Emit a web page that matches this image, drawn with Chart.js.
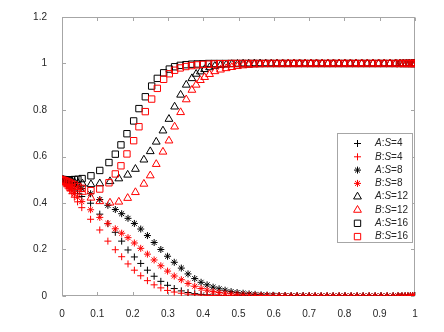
<!DOCTYPE html>
<html>
<head>
<meta charset="utf-8">
<script src="https://cdn.jsdelivr.net/npm/chart.js"></script>
<style>
  html, body { margin: 0; padding: 0; background: #fff; }
  #wrap { width: 444px; height: 332px; }
</style>
</head>
<body>
<div id="wrap"><canvas id="c"></canvas></div>
<script>
// tick labels
const xTicks = [0, 0.1, 0.2, 0.3, 0.4, 0.5, 0.6, 0.7, 0.8, 0.9, 1];
const yTicks = [0, 0.2, 0.4, 0.6, 0.8, 1, 1.2];

// sample positions (solver output is not evenly spaced)
const xCross = [
  0, 0.003, 0.006, 0.009, 0.013, 0.017, 0.022, 0.028, 0.035, 0.044,
  0.056, 0.081, 0.107, 0.13, 0.151, 0.169, 0.187, 0.205, 0.223, 0.242,
  0.261, 0.28, 0.299, 0.318, 0.338, 0.357, 0.376, 0.394, 0.411, 0.428,
  0.445, 0.462, 0.479, 0.496, 0.513, 0.53, 0.547, 0.564, 0.581, 0.598,
  0.615, 0.632, 0.649, 0.666, 0.683, 0.7, 0.717, 0.734, 0.751, 0.768,
  0.785, 0.802, 0.819, 0.836, 0.853, 0.87, 0.887, 0.904, 0.921, 0.938,
  0.952, 0.963, 0.972, 0.98, 0.987, 0.993, 0.998, 1.0
];
const xTri = [
  0, 0.004, 0.008, 0.012, 0.016, 0.021, 0.027, 0.035, 0.045, 0.058,
  0.082, 0.107, 0.136, 0.161, 0.186, 0.208, 0.232, 0.25, 0.267, 0.286,
  0.303, 0.319, 0.336, 0.352, 0.368, 0.38, 0.392, 0.404, 0.418, 0.433,
  0.449, 0.465, 0.481, 0.497, 0.513, 0.529, 0.545, 0.561, 0.577, 0.593,
  0.609, 0.625, 0.641, 0.657, 0.673, 0.689, 0.705, 0.721, 0.737, 0.753,
  0.769, 0.785, 0.801, 0.817, 0.833, 0.849, 0.865, 0.881, 0.897, 0.913,
  0.929, 0.945, 0.957, 0.967, 0.976, 0.984, 0.991, 0.997, 1.0
];
const xSq = [
  0, 0.004, 0.008, 0.012, 0.016, 0.021, 0.027, 0.035, 0.045, 0.057,
  0.082, 0.107, 0.133, 0.151, 0.167, 0.184, 0.203, 0.218, 0.236, 0.254,
  0.27, 0.288, 0.304, 0.319, 0.335, 0.351, 0.367, 0.383, 0.399, 0.415,
  0.431, 0.447, 0.463, 0.479, 0.495, 0.511, 0.527, 0.543, 0.559, 0.575,
  0.591, 0.607, 0.623, 0.639, 0.655, 0.671, 0.687, 0.703, 0.719, 0.735,
  0.751, 0.767, 0.783, 0.799, 0.815, 0.831, 0.847, 0.863, 0.879, 0.895,
  0.911, 0.927, 0.943, 0.956, 0.966, 0.975, 0.983, 0.99, 0.996, 1.0
];

// series values
const yA4 = [
  0.5, 0.496, 0.492, 0.488, 0.483, 0.477, 0.47, 0.462, 0.452, 0.44,
  0.428, 0.399, 0.352, 0.311, 0.274, 0.236, 0.198, 0.168, 0.14, 0.111,
  0.085, 0.063, 0.046, 0.032, 0.022, 0.015, 0.01, 0.007, 0.005, 0.004,
  0.003, 0.002, 0.002, 0.001, 0.001, 0.001, 0, 0, 0, 0,
  0, 0, 0, 0, 0, 0, 0, 0, 0, 0,
  0, 0, 0, 0, 0, 0, 0, 0, 0, 0,
  0, 0, 0, 0, 0, 0, 0, 0
];
const yB4 = [
  0.5, 0.494, 0.487, 0.481, 0.472, 0.464, 0.453, 0.44, 0.425, 0.405,
  0.38, 0.33, 0.284, 0.236, 0.199, 0.169, 0.138, 0.111, 0.087, 0.066,
  0.048, 0.035, 0.024, 0.017, 0.012, 0.008, 0.006, 0.004, 0.003, 0.002,
  0.001, 0.001, 0.001, 0, 0, 0, 0, 0, 0, 0,
  0, 0, 0, 0, 0, 0, 0, 0, 0, 0,
  0, 0, 0, 0, 0, 0, 0, 0, 0, 0,
  0, 0, 0, 0, 0, 0, 0, 0
];
const yA8 = [
  0.5, 0.498, 0.496, 0.494, 0.491, 0.488, 0.485, 0.481, 0.476, 0.47,
  0.462, 0.44, 0.415, 0.39, 0.372, 0.354, 0.334, 0.312, 0.288, 0.26,
  0.23, 0.2, 0.171, 0.145, 0.12, 0.095, 0.075, 0.059, 0.048, 0.038,
  0.031, 0.025, 0.019, 0.015, 0.012, 0.009, 0.007, 0.005, 0.004, 0.003,
  0.002, 0.002, 0.001, 0.001, 0.001, 0, 0, 0, 0, 0,
  0, 0, 0, 0, 0, 0, 0, 0, 0, 0,
  0, 0, 0, 0, 0, 0, 0, 0
];
const yB8 = [
  0.5, 0.495, 0.49, 0.485, 0.478, 0.471, 0.462, 0.452, 0.44, 0.425,
  0.406, 0.371, 0.338, 0.312, 0.289, 0.27, 0.251, 0.228, 0.205, 0.18,
  0.155, 0.13, 0.107, 0.086, 0.07, 0.054, 0.042, 0.032, 0.025, 0.019,
  0.015, 0.012, 0.009, 0.007, 0.005, 0.004, 0.003, 0.002, 0.002, 0.001,
  0.001, 0.001, 0, 0, 0, 0, 0, 0, 0, 0,
  0, 0, 0, 0, 0, 0, 0, 0, 0, 0,
  0, 0, 0, 0, 0, 0, 0, 0
];
const yA12 = [
  0.5, 0.499, 0.498, 0.497, 0.496, 0.494, 0.492, 0.489, 0.486, 0.483,
  0.48, 0.484, 0.493, 0.505, 0.521, 0.546, 0.586, 0.622, 0.663, 0.711,
  0.761, 0.814, 0.865, 0.908, 0.936, 0.955, 0.965, 0.975, 0.983, 0.989,
  0.993, 0.995, 0.997, 0.998, 0.999, 0.999, 1, 1, 1, 1,
  1, 1, 1, 1, 1, 1, 1, 1, 1, 1,
  1, 1, 1, 1, 1, 1, 1, 1, 1, 1,
  1, 1, 1, 1, 1, 1, 1, 1, 1
];
const yB12 = [
  0.5, 0.497, 0.494, 0.49, 0.486, 0.481, 0.475, 0.467, 0.458, 0.447,
  0.422, 0.407, 0.401, 0.405, 0.421, 0.446, 0.482, 0.518, 0.567, 0.62,
  0.668, 0.728, 0.79, 0.845, 0.886, 0.908, 0.928, 0.941, 0.954, 0.966,
  0.973, 0.979, 0.984, 0.988, 0.991, 0.993, 0.995, 0.996, 0.997, 0.998,
  0.999, 0.999, 1, 1, 1, 1, 1, 1, 1, 1,
  1, 1, 1, 1, 1, 1, 1, 1, 1, 1,
  1, 1, 1, 1, 1, 1, 1, 1, 1
];
const yA16 = [
  0.5, 0.5, 0.5, 0.5, 0.5, 0.5, 0.5, 0.501, 0.502, 0.505,
  0.517, 0.54, 0.574, 0.61, 0.65, 0.698, 0.753, 0.806, 0.857, 0.903,
  0.936, 0.96, 0.976, 0.986, 0.992, 0.995, 0.997, 0.998, 0.999, 1,
  1, 1, 1, 1, 1, 1, 1, 1, 1, 1,
  1, 1, 1, 1, 1, 1, 1, 1, 1, 1,
  1, 1, 1, 1, 1, 1, 1, 1, 1, 1,
  1, 1, 1, 1, 1, 1, 1, 1, 1, 1
];
const yB16 = [
  0.5, 0.498, 0.496, 0.494, 0.491, 0.488, 0.484, 0.478, 0.471, 0.463,
  0.453, 0.46, 0.487, 0.525, 0.56, 0.611, 0.668, 0.728, 0.793, 0.847,
  0.893, 0.932, 0.956, 0.971, 0.981, 0.987, 0.991, 0.994, 0.996, 0.997,
  0.998, 0.999, 0.999, 1, 1, 1, 1, 1, 1, 1,
  1, 1, 1, 1, 1, 1, 1, 1, 1, 1,
  1, 1, 1, 1, 1, 1, 1, 1, 1, 1,
  1, 1, 1, 1, 1, 1, 1, 1, 1, 1
];

const BLACK = '#000000';
const RED = '#ff0000';
const FONT = "'Liberation Sans', Arial, sans-serif";

const specs = [
  { label: 'A:S=4',  xs: xCross, ys: yA4,  style: 'cross',    r: 3.5, color: BLACK },
  { label: 'B:S=4',  xs: xCross, ys: yB4,  style: 'cross',    r: 3.5, color: RED },
  { label: 'A:S=8',  xs: xCross, ys: yA8,  style: 'star',     r: 3.5, color: BLACK },
  { label: 'B:S=8',  xs: xCross, ys: yB8,  style: 'star',     r: 3.5, color: RED },
  { label: 'A:S=12', xs: xTri,   ys: yA12, style: 'triangle', r: 4.5, color: BLACK },
  { label: 'B:S=12', xs: xTri,   ys: yB12, style: 'triangle', r: 4.5, color: RED },
  { label: 'A:S=16', xs: xSq,    ys: yA16, style: 'rect',     r: 4.5, color: BLACK },
  { label: 'B:S=16', xs: xSq,    ys: yB16, style: 'rect',     r: 4.5, color: RED }
];

const datasets = specs.map((s, i) => ({
  label: s.label,
  data: s.xs.map((x, k) => ({ x: x, y: s.ys[k] })),
  showLine: false,
  pointStyle: s.style,
  pointRadius: s.r,
  pointBorderWidth: 1,
  borderColor: s.color,
  backgroundColor: 'rgba(0,0,0,0)',
  order: specs.length - i   // later series on top, as in the original
}));

// axes box with inward ticks
const frame = {
  id: 'frame',
  beforeDatasetsDraw(chart) {
    const { ctx, chartArea: a, scales: { x, y } } = chart;
    ctx.save();
    ctx.strokeStyle = '#a6a6a6';
    ctx.lineWidth = 1;
    const L = Math.round(a.left) + 0.5, R = Math.round(a.right) - 0.5;
    const T = Math.round(a.top) + 0.5, B = Math.round(a.bottom) - 0.5;
    ctx.strokeRect(L, T, R - L, B - T);
    ctx.beginPath();
    xTicks.forEach(v => {
      const px = Math.round(x.getPixelForValue(v)) + 0.5;
      ctx.moveTo(px, B); ctx.lineTo(px, B - 3.5);
      ctx.moveTo(px, T); ctx.lineTo(px, T + 3.5);
    });
    yTicks.forEach(v => {
      const py = Math.round(y.getPixelForValue(v)) + 0.5;
      ctx.moveTo(L, py); ctx.lineTo(L + 3.5, py);
      ctx.moveTo(R, py); ctx.lineTo(R - 3.5, py);
    });
    ctx.stroke();
    ctx.restore();
  }
};

// boxed legend inside the plot, italic A/B and S
const boxLegend = {
  id: 'boxLegend',
  afterDraw(chart) {
    const ctx = chart.ctx;
    const bx = 337, by = 133, bw = 75, bh = 109;
    ctx.save();
    ctx.fillStyle = '#ffffff';
    ctx.fillRect(bx, by, bw, bh);
    ctx.strokeStyle = '#a6a6a6';
    ctx.lineWidth = 1;
    ctx.strokeRect(bx + 0.5, by + 0.5, bw, bh);
    specs.forEach((s, i) => {
      const cy = 143.5 + i * 13.3;
      ctx.strokeStyle = s.color;
      ctx.fillStyle = 'rgba(0,0,0,0)';
      ctx.lineWidth = 1;
      Chart.helpers.drawPoint(ctx, { pointStyle: s.style, radius: s.r, rotation: 0, borderWidth: 1 }, 357.5, cy);
      const parts = [
        [s.label[0], true], [':', false], ['S', true], [s.label.slice(3), false]
      ];
      let tx = 375;
      ctx.fillStyle = '#262626';
      ctx.textBaseline = 'middle';
      parts.forEach(([t, it]) => {
        ctx.font = (it ? 'italic ' : '') + '10px ' + FONT;
        ctx.fillText(t, tx, cy);
        tx += ctx.measureText(t).width;
      });
    });
    ctx.restore();
  }
};

new Chart(document.getElementById('c'), {
  type: 'scatter',
  data: { datasets: datasets },
  options: {
    responsive: true,
    maintainAspectRatio: false,
    animation: false,
    events: [],
    layout: { padding: { left: 0, top: 17, right: 29, bottom: 0 } },
    plugins: {
      legend: { display: false },
      tooltip: { enabled: false }
    },
    scales: {
      x: {
        type: 'linear',
        min: 0,
        max: 1,
        afterBuildTicks: s => { s.ticks = xTicks.map(v => ({ value: v })); },
        afterFit: s => { s.height = 36; },
        grid: { display: false },
        border: { display: false },
        ticks: {
          callback: v => String(v),
          color: '#262626',
          padding: 4,
          maxRotation: 0,
          autoSkip: false,
          font: { family: FONT, size: 10 }
        }
      },
      y: {
        type: 'linear',
        min: 0,
        max: 1.2,
        afterBuildTicks: s => { s.ticks = yTicks.map(v => ({ value: v })); },
        afterFit: s => { s.width = 62; },
        grid: { display: false },
        border: { display: false },
        ticks: {
          callback: v => String(v),
          color: '#262626',
          padding: 7,
          autoSkip: false,
          font: { family: FONT, size: 10 }
        }
      }
    }
  },
  plugins: [frame, boxLegend]
});
</script>
</body>
</html>
